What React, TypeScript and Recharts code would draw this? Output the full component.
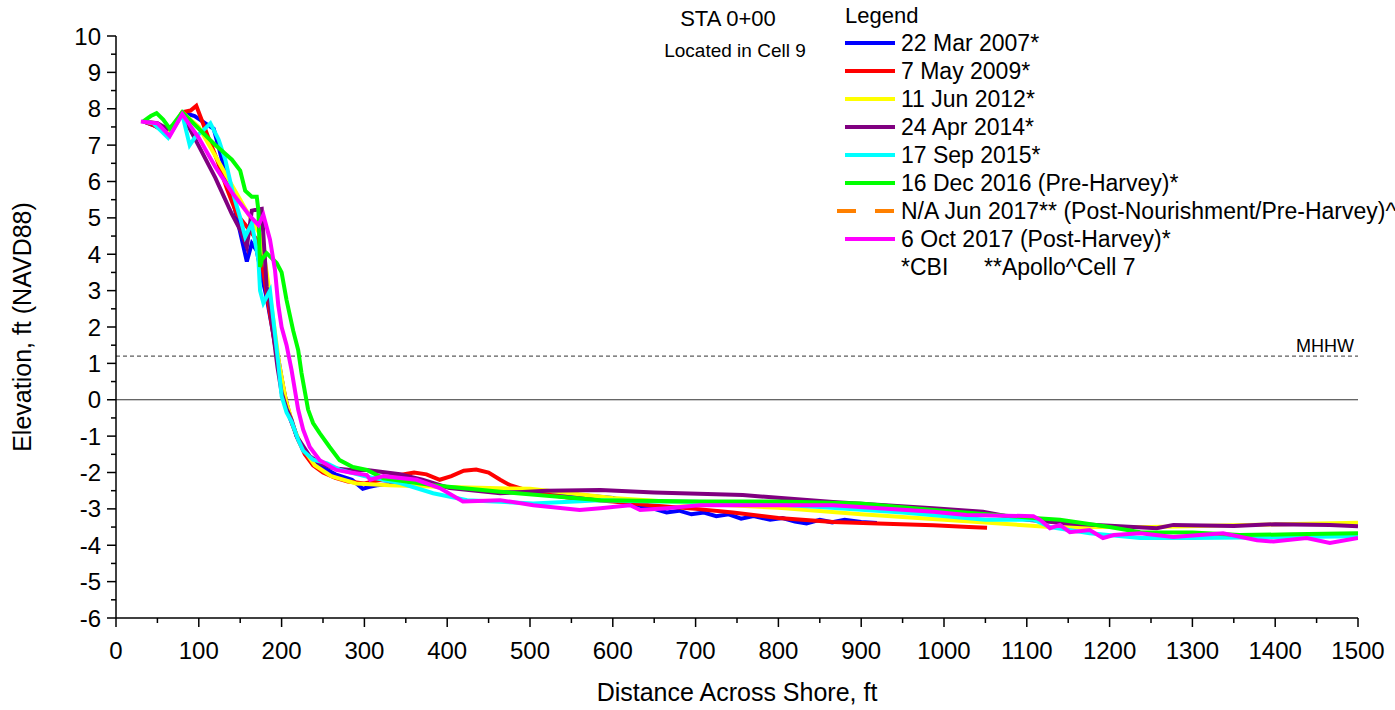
import React from 'react';
import { LineChart, Line, XAxis, YAxis, ReferenceLine, Legend } from 'recharts';

type Pt = [number, number];

// Distance (ft), Elevation (ft NAVD88)
const mar2007: Pt[] = [
  [33, 7.65], [45, 7.55], [60, 7.4], [70, 7.5], [80, 7.9], [95, 7.8], [108, 7.6], [118, 7.45], [128, 6.6],
  [140, 5.6], [150, 4.6], [158, 3.8], [164, 4.3], [170, 4.1], [176, 3.4], [182, 2.8], [190, 1.8], [197, 1.0],
  [203, 0.2], [210, -0.5], [220, -1.1], [230, -1.5], [245, -1.8], [265, -2.05], [285, -2.2], [298, -2.45],
  [305, -2.4], [315, -2.35], [340, -2.3], [370, -2.35], [400, -2.4], [450, -2.5], [500, -2.55], [550, -2.6],
  [600, -2.7], [630, -2.9], [650, -3.0], [665, -3.1], [680, -3.05], [695, -3.15], [710, -3.1], [725, -3.2],
  [740, -3.15], [755, -3.27], [770, -3.2], [790, -3.3], [805, -3.25], [820, -3.35], [834, -3.4], [850, -3.3],
  [865, -3.37], [880, -3.3], [900, -3.36], [919, -3.39],
];
const may2009: Pt[] = [
  [33, 7.65], [45, 7.55], [60, 7.35], [70, 7.55], [80, 7.9], [90, 7.95], [97, 8.08], [110, 7.3], [122, 6.6],
  [134, 5.8], [146, 5.1], [160, 4.7], [170, 4.4], [178, 3.5], [185, 2.5], [192, 1.5], [198, 0.8], [205, 0.0],
  [212, -0.6], [220, -1.1], [228, -1.5], [238, -1.8], [250, -2.0], [265, -2.15], [280, -2.25], [300, -2.3],
  [320, -2.2], [343, -2.07], [360, -2.0], [375, -2.05], [391, -2.2], [405, -2.1], [420, -1.95], [435, -1.92],
  [450, -2.0], [464, -2.2], [476, -2.35], [504, -2.55], [550, -2.7], [600, -2.8], [645, -2.9], [700, -3.0],
  [745, -3.1], [800, -3.25], [866, -3.36], [920, -3.4], [987, -3.45], [1030, -3.5], [1052, -3.52],
];
const jun2012: Pt[] = [
  [33, 7.65], [50, 7.6], [65, 7.3], [80, 7.9], [100, 7.5], [120, 6.7], [140, 5.9], [160, 5.1], [175, 4.5],
  [182, 3.5], [190, 2.2], [197, 1.0], [205, 0.0], [215, -0.8], [225, -1.3], [240, -1.8], [260, -2.1],
  [290, -2.3], [330, -2.35], [400, -2.4], [500, -2.45], [600, -2.7], [700, -2.85], [800, -2.97], [900, -3.15],
  [1000, -3.3], [1128, -3.5], [1250, -3.5], [1350, -3.45], [1500, -3.38],
];
const apr2014: Pt[] = [
  [33, 7.65], [50, 7.6], [62, 7.45], [70, 7.55], [80, 7.85], [98, 7.06], [120, 6.1], [140, 5.1], [150, 4.67],
  [158, 4.2], [164, 5.2], [176, 5.25], [182, 3.1], [186, 2.6], [190, 1.8], [195, 0.9], [200, 0.2], [206, -0.25],
  [212, -0.55], [218, -1.0], [234, -1.55], [246, -1.74], [262, -1.88], [283, -1.93], [303, -1.93], [343, -2.05],
  [370, -2.2], [403, -2.43], [464, -2.57], [520, -2.5], [585, -2.48], [650, -2.55], [757, -2.62], [866, -2.81],
  [987, -2.98], [1047, -3.08], [1100, -3.3], [1150, -3.4], [1257, -3.53], [1277, -3.44], [1350, -3.47],
  [1400, -3.42], [1466, -3.44], [1500, -3.48],
];
const sep2015: Pt[] = [
  [33, 7.65], [45, 7.6], [63, 7.2], [80, 7.85], [89, 7.0], [95, 7.2], [105, 7.4], [114, 7.6], [124, 7.15],
  [132, 6.6], [141, 5.7], [150, 5.0], [156, 4.48], [164, 4.85], [172, 3.85], [174, 3.0], [178, 2.66],
  [186, 3.0], [190, 2.2], [196, 1.0], [200, 0.1], [206, -0.35], [212, -0.6], [220, -1.1], [226, -1.4],
  [238, -1.65], [255, -1.75], [271, -1.93], [300, -2.1], [343, -2.29], [383, -2.57], [424, -2.76],
  [504, -2.85], [585, -2.76], [650, -2.8], [750, -2.82], [850, -2.95], [950, -3.1], [1050, -3.3], [1108, -3.3],
  [1128, -3.5], [1176, -3.67], [1237, -3.8], [1300, -3.8], [1400, -3.78], [1500, -3.75],
];
const dec2016: Pt[] = [
  [33, 7.65], [42, 7.8], [49, 7.88], [57, 7.7], [65, 7.45], [80, 7.9], [100, 7.45], [120, 7.0], [140, 6.6],
  [150, 6.3], [156, 5.75], [164, 5.58], [170, 5.58], [172, 5.2], [174, 3.65], [176, 3.85], [182, 4.03],
  [194, 3.76], [200, 3.5], [206, 2.74], [214, 1.9], [220, 1.37], [224, 0.74], [232, -0.27], [238, -0.64],
  [246, -0.92], [258, -1.3], [270, -1.66], [286, -1.85], [303, -1.93], [323, -2.16], [383, -2.35],
  [464, -2.53], [585, -2.76], [705, -2.8], [800, -2.8], [899, -2.85], [987, -3.03], [1108, -3.25],
  [1140, -3.3], [1200, -3.5], [1237, -3.64], [1300, -3.65], [1357, -3.72], [1420, -3.7], [1500, -3.67],
];
const jun2017: Pt[] = [];
const oct2017: Pt[] = [
  [30, 7.65], [50, 7.6], [65, 7.25], [80, 7.85], [100, 7.2], [120, 6.4], [140, 5.7], [160, 5.1], [172, 4.8],
  [178, 5.08], [186, 4.4], [192, 3.57], [196, 2.6], [200, 2.0], [206, 1.5], [212, 0.82], [220, -0.27],
  [226, -0.82], [234, -1.3], [246, -1.66], [266, -1.93], [283, -2.0], [303, -2.07], [307, -2.2], [323, -2.1],
  [363, -2.2], [391, -2.43], [419, -2.8], [464, -2.76], [504, -2.9], [560, -3.03], [585, -2.98], [621, -2.9],
  [633, -3.03], [665, -2.98], [705, -2.9], [786, -2.9], [866, -2.9], [987, -3.08], [1027, -3.17],
  [1108, -3.2], [1116, -3.3], [1128, -3.53], [1140, -3.44], [1152, -3.64], [1176, -3.58], [1192, -3.8],
  [1205, -3.72], [1237, -3.67], [1277, -3.77], [1337, -3.67], [1378, -3.86], [1398, -3.9], [1438, -3.8],
  [1466, -3.94], [1500, -3.8],
];

const seriesNames = [
  '22 Mar 2007*',
  '7 May 2009*',
  '11 Jun 2012*',
  '24 Apr 2014*',
  '17 Sep 2015*',
  '16 Dec 2016 (Pre-Harvey)*',
  'N/A Jun 2017** (Post-Nourishment/Pre-Harvey)^',
  '6 Oct 2017 (Post-Harvey)*',
];
const seriesData = [mar2007, may2009, jun2012, apr2014, sep2015, dec2016, jun2017, oct2017];
const seriesColors = ['#0000FF', '#FF0000', '#FFFF00', '#800080', '#00FFFF', '#00FF00', '#FF8000', '#FF00FF'];
const seriesDashed = [false, false, false, false, false, false, true, false];

const xTicks = [0, 50, 100, 150, 200, 250, 300, 350, 400, 450, 500, 550, 600, 650, 700, 750, 800, 850, 900, 950,
  1000, 1050, 1100, 1150, 1200, 1250, 1300, 1350, 1400, 1450, 1500];
const yTicks = [-6, -5.5, -5, -4.5, -4, -3.5, -3, -2.5, -2, -1.5, -1, -0.5, 0, 0.5, 1, 1.5, 2, 2.5, 3, 3.5, 4,
  4.5, 5, 5.5, 6, 6.5, 7, 7.5, 8, 8.5, 9, 9.5, 10];

const FONT = '"Liberation Sans", Arial, Helvetica, sans-serif';

const rows = (pts: Pt[]) => pts.map(([x, y]) => ({ x, y }));

const XTick = (props: any) => {
  const { x, y, payload } = props;
  const v = payload.value as number;
  const major = v % 100 === 0;
  return (
    <g>
      <line x1={x} x2={x} y1={y} y2={y + (major ? 9 : 5)} stroke="#000" strokeWidth={1.5} />
      {major && (
        <text x={x} y={y + 41} textAnchor="middle" fontSize={24} fill="#000" fontFamily={FONT}>
          {v}
        </text>
      )}
    </g>
  );
};

const YTick = (props: any) => {
  const { x, y, payload } = props;
  const v = payload.value as number;
  const major = Math.abs(v % 1) < 1e-9;
  return (
    <g>
      <line x1={x} x2={x - (major ? 9 : 5)} y1={y} y2={y} stroke="#000" strokeWidth={1.5} />
      {major && (
        <text x={x - 15} y={y + 8.5} textAnchor="end" fontSize={24} fill="#000" fontFamily={FONT}>
          {v}
        </text>
      )}
    </g>
  );
};

const LegendBlock = () => {
  const ox = 640;
  return (
    <svg width={755} height={300} style={{ display: 'block', overflow: 'visible' }} fontFamily={FONT}>
      <g transform={`translate(${-ox},0)`}>
        <text x={728} y={26} textAnchor="middle" fontSize={22} fill="#000">STA 0+00</text>
        <text x={735} y={57} textAnchor="middle" fontSize={19} fill="#000">Located in Cell 9</text>
        <text x={845} y={23} fontSize={22} fill="#000">Legend</text>
        {seriesNames.map((name, i) => {
          const cy = 43 + 28 * i;
          return (
            <g key={name}>
              {seriesDashed[i] ? (
                <line x1={837} x2={895} y1={cy} y2={cy} stroke={seriesColors[i]} strokeWidth={4} strokeDasharray="19 19" />
              ) : (
                <line x1={845} x2={895} y1={cy} y2={cy} stroke={seriesColors[i]} strokeWidth={4} />
              )}
              <text x={901} y={cy + 8} fontSize={23} fill="#000">{name}</text>
            </g>
          );
        })}
        <text x={901} y={43 + 28 * 8 + 8} fontSize={23} fill="#000">*CBI</text>
        <text x={984} y={43 + 28 * 8 + 8} fontSize={23} fill="#000">**Apollo^Cell 7</text>
      </g>
    </svg>
  );
};

export default function App() {
  return (
    <div style={{ position: 'absolute', left: 0, top: 0, width: 1395, height: 710, background: '#fff', fontFamily: FONT }}>
      <LineChart width={1395} height={710} margin={{ top: 36, right: 37, left: 0, bottom: 0 }}>
        <XAxis
          dataKey="x"
          type="number"
          domain={[0, 1500]}
          ticks={xTicks}
          interval={0}
          height={92}
          tickLine={false}
          tickSize={0}
          tickMargin={0}
          tick={(p: any) => <XTick {...p} />}
          axisLine={{ stroke: '#000', strokeWidth: 1.5 }}
          allowDataOverflow
          label={{ value: 'Distance Across Shore, ft', position: 'insideBottom', offset: 9, fontSize: 25, fill: '#000', fontFamily: FONT }}
        />
        <YAxis
          type="number"
          domain={[-6, 10]}
          ticks={yTicks}
          interval={0}
          width={116}
          tickLine={false}
          tickSize={0}
          tickMargin={0}
          tick={(p: any) => <YTick {...p} />}
          axisLine={{ stroke: '#000', strokeWidth: 1.5 }}
          allowDataOverflow
          label={{ value: 'Elevation, ft (NAVD88)', angle: -90, position: 'center', dx: -36, fontSize: 25, fill: '#000', fontFamily: FONT }}
        />
        <ReferenceLine y={0} stroke="#333" strokeWidth={1} />
        <ReferenceLine
          y={1.2}
          stroke="#333"
          strokeWidth={1}
          strokeDasharray="4 3"
          label={{ value: 'MHHW', position: 'insideBottomRight', offset: 4, fontSize: 18, fill: '#000', fontFamily: FONT }}
        />
        {seriesData.map((d, i) => (
          <Line
            key={seriesNames[i]}
            name={seriesNames[i]}
            data={rows(d)}
            dataKey="y"
            type="linear"
            stroke={seriesColors[i]}
            strokeWidth={4}
            strokeDasharray={seriesDashed[i] ? '19 19' : undefined}
            dot={false}
            activeDot={false}
            isAnimationActive={false}
          />
        ))}
        <Legend
          layout="vertical"
          align="center"
          verticalAlign="middle"
          content={() => <LegendBlock />}
          wrapperStyle={{ position: 'absolute', left: 640, top: 0, width: 755, height: 300 }}
        />
      </LineChart>
    </div>
  );
}
